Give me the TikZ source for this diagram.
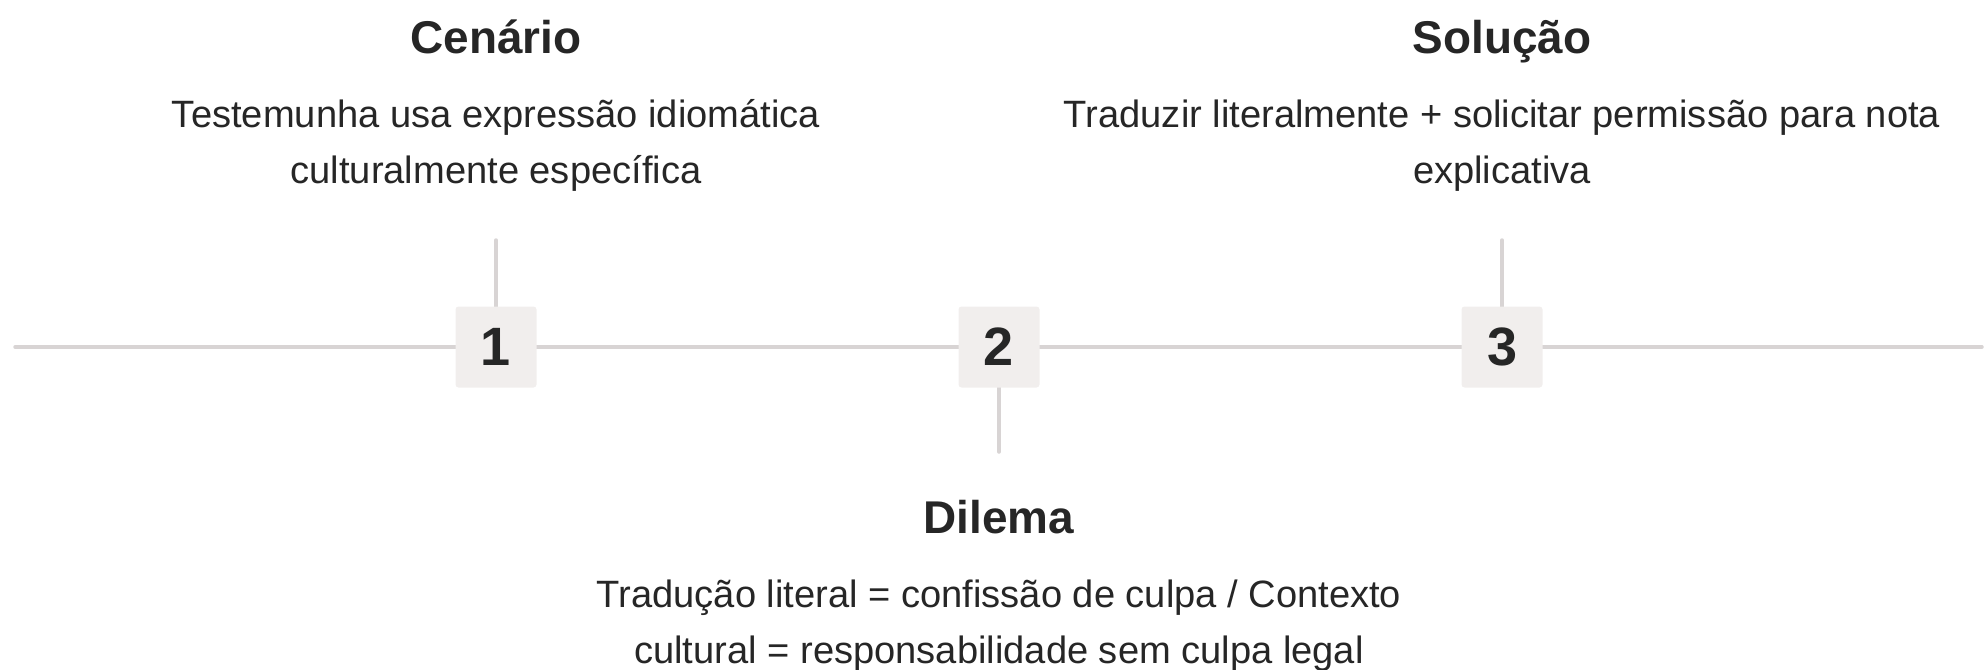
\documentclass[tikz,border=0pt]{standalone}
\usepackage{fontspec}
\setmainfont{Liberation Sans}
\usetikzlibrary{backgrounds}
\definecolor{txt}{HTML}{262626}
\definecolor{linec}{HTML}{D8D4D4}
\definecolor{boxc}{HTML}{F1EEED}
\newlength\reflen
\tikzset{
  rail/.style={draw=linec, line width=3.5pt, line cap=round},
  numbox/.style={fill=boxc, rounded corners=3pt, minimum width=81pt, minimum height=81pt,
    inner sep=0pt, text=txt, font=\fontsize{54pt}{54pt}\selectfont\bfseries},
  ttl/.style={anchor=base, inner sep=0pt, text=txt,
    font=\fontsize{\titlesize pt}{\titlesize pt}\selectfont\bfseries},
  desc/.style={anchor=base, inner sep=0pt, text=txt, align=center,
    font=\fontsize{\bodysize pt}{56pt}\selectfont},
}
\begin{document}
\settowidth\reflen{\fontsize{36pt}{40pt}\selectfont Testemunha usa expressão idiomática}%
\pgfmathsetmacro\bodysize{36/\reflen*648}%
\settowidth\reflen{\fontsize{40pt}{44pt}\selectfont\bfseries Cenário}%
\pgfmathsetmacro\titlesize{40/\reflen*171}%
\begin{tikzpicture}[x=1pt,y=-1pt]
\useasboundingbox (0,0) rectangle (1985,669);
% number boxes
\node[numbox] (b1) at (496,347) {1};
\node[numbox] (b2) at (999,347) {2};
\node[numbox] (b3) at (1502,347) {3};
% free ends
\coordinate (L) at (15,347);
\coordinate (R) at (1982,347);
\coordinate (t1) at (496,240);
\coordinate (t3) at (1502,240);
\coordinate (t2) at (999,452);
% texts (base = baseline of the last line)
\node[ttl] (h1) at (496,53) {Cenário};
\node[desc] (d1) at (496,183) {Testemunha usa expressão idiomática\\culturalmente específica};
\node[ttl] (h3) at (1502,53) {Solução};
\node[desc] (d3) at (1502,183) {Traduzir literalmente + solicitar permissão para nota\\explicativa};
\node[ttl] (h2) at (999,533) {Dilema};
\node[desc] (d2) at (999,663) {Tradução literal = confissão de culpa / Contexto\\cultural = responsabilidade sem culpa legal};
\begin{pgfonlayer}{background}
\draw[rail] (L) -- (b1);
\draw[rail] (b1) -- (b2);
\draw[rail] (b2) -- (b3);
\draw[rail] (b3) -- (R);
\draw[rail] (b1) -- (t1);
\draw[rail] (b3) -- (t3);
\draw[rail] (b2) -- (t2);
\end{pgfonlayer}
\end{tikzpicture}
\end{document}
